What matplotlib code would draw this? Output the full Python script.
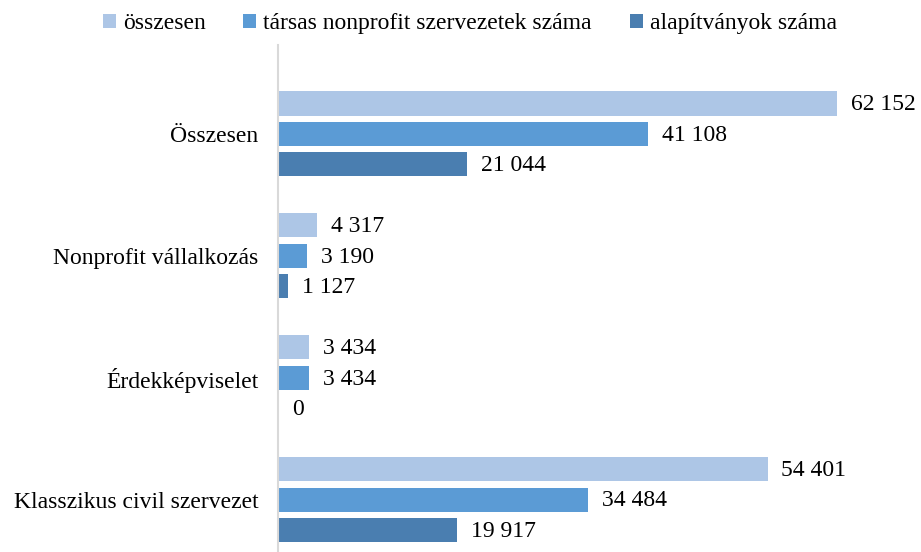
import numpy as np
import matplotlib.pyplot as plt

plt.rcParams['font.family'] = ['Liberation Serif', 'DejaVu Serif']

categories = ["Összesen", "Nonprofit vállalkozás", "Érdekképviselet", "Klasszikus civil szervezet"]
series_names = ["összesen", "társas nonprofit szervezetek száma", "alapítványok száma"]
osszesen = [62152, 4317, 3434, 54401]
tarsas = [41108, 3190, 3434, 34484]
alapitvany = [21044, 1127, 0, 19917]
colors = ["#ADC6E6", "#5B9BD5", "#4A7EB0"]


def fmt(v):
    return "{:,}".format(v).replace(",", " ")


fig = plt.figure(figsize=(9.21, 5.52), dpi=100)
ax = fig.add_axes([278 / 921, 0, 630 / 921, 507 / 552])

y = np.arange(len(categories))
offsets = [-0.25, 0.0, 0.25]
h = 0.197
for vals, off, col, name in zip([osszesen, tarsas, alapitvany], offsets, colors, series_names):
    bars = ax.barh(y + off, vals, height=h, color=col, label=name)
    for b, v in zip(bars, vals):
        ax.annotate(fmt(v), (v, b.get_y() + b.get_height() / 2), xytext=(10, -1),
                    textcoords="offset points", va="center", ha="left", fontsize=17)

ax.set_xlim(0, 70000)
ax.set_ylim(3.43, -0.73)
ax.set_yticks(y)
ax.set_yticklabels(categories, fontsize=17)
ax.tick_params(axis="y", length=0, pad=14)
ax.set_xticks([])
for s in ["top", "right", "bottom"]:
    ax.spines[s].set_visible(False)
ax.spines["left"].set_color("#D9D9D9")
ax.spines["left"].set_linewidth(1.5)

fig.legend(loc="upper center", bbox_to_anchor=(0.51, 1.015), ncol=3, frameon=False,
           fontsize=17, handlelength=0.55, handleheight=0.55, handletextpad=0.3,
           columnspacing=1.6)

fig.savefig("out.png", dpi=100)
